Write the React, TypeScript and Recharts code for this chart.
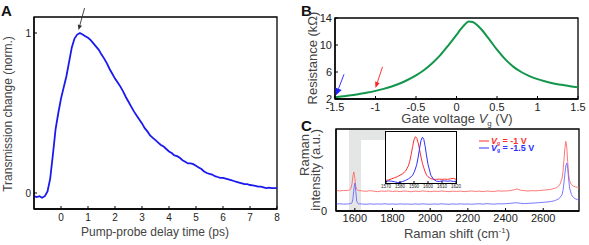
import { LineChart, Line, XAxis, YAxis, ReferenceArea, ReferenceDot } from "recharts"

const FONT = "'Liberation Sans', Arial, sans-serif"

// panel A: pump-probe transient
const delayTime = [
  -1.0, -0.9, -0.8, -0.7, -0.6, -0.5, -0.4, -0.3, -0.2, -0.1,
  0.0, 0.1, 0.2, 0.3, 0.4, 0.5, 0.6, 0.7, 0.8, 0.9,
  1.0, 1.1, 1.2, 1.3, 1.4, 1.5, 1.6, 1.7, 1.8, 1.9,
  2.0, 2.1, 2.2, 2.3, 2.4, 2.5, 2.6, 2.7, 2.8, 2.9,
  3.0, 3.1, 3.2, 3.3, 3.4, 3.5, 3.6, 3.7, 3.8, 3.9,
  4.0, 4.1, 4.2, 4.3, 4.4, 4.5, 4.6, 4.7, 4.8, 4.9,
  5.0, 5.1, 5.2, 5.3, 5.4, 5.5, 5.6, 5.7, 5.8, 5.9,
  6.0, 6.1, 6.2, 6.3, 6.4, 6.5, 6.6, 6.7, 6.8, 6.9,
  7.0, 7.1, 7.2, 7.3, 7.4, 7.5, 7.6, 7.7, 7.8, 7.9,
  8.0,
]
const transmission = [
  -0.02, -0.025, -0.02, -0.03, -0.02, 0.01, 0.09, 0.24, 0.4, 0.5,
  0.59, 0.66, 0.73, 0.82, 0.91, 0.965, 0.99, 1.0, 0.99, 0.98,
  0.97, 0.955, 0.935, 0.915, 0.895, 0.865, 0.84, 0.81, 0.775, 0.745,
  0.715, 0.69, 0.665, 0.635, 0.6, 0.57, 0.54, 0.51, 0.485, 0.46,
  0.435, 0.405, 0.385, 0.36, 0.345, 0.33, 0.315, 0.3, 0.29, 0.275,
  0.26, 0.25, 0.235, 0.23, 0.22, 0.205, 0.195, 0.185, 0.185, 0.18,
  0.17, 0.16, 0.15, 0.135, 0.125, 0.12, 0.115, 0.105, 0.1, 0.095,
  0.095, 0.09, 0.085, 0.08, 0.075, 0.07, 0.065, 0.06, 0.055, 0.055,
  0.05, 0.048, 0.045, 0.04, 0.04, 0.035, 0.03, 0.033, 0.03, 0.03,
  0.03,
]
const delayTicks = [0, 1, 2, 3, 4, 5, 6, 7, 8]

// panel B: resistance vs gate voltage
const gateVoltage = [
  -1.5, -1.4, -1.3, -1.2, -1.1, -1.0, -0.9, -0.8, -0.7, -0.6, -0.5, -0.4, -0.3, -0.2, -0.1,
  0.0, 0.05, 0.1, 0.15, 0.2, 0.25, 0.3, 0.4, 0.5, 0.6, 0.7, 0.8, 0.9, 1.0, 1.1, 1.2, 1.3, 1.4, 1.5,
]
const resistance = [
  2.25, 2.4, 2.55, 2.75, 2.95, 3.2, 3.5, 3.85, 4.3, 4.85, 5.5, 6.3, 7.3, 8.5, 9.95,
  11.5, 12.3, 13.0, 13.5, 13.4, 13.0, 12.4, 10.9, 9.3, 7.9, 6.8, 6.0, 5.4, 4.95, 4.6, 4.3, 4.1, 3.9, 3.75,
]
const gateTicks = [-1.5, -1, -0.5, 0, 0.5, 1, 1.5]
const resistanceTicks = [2, 6, 10, 14]

// panel C: Raman spectra
const ramanShift = [
  1500, 1520, 1540, 1560, 1570, 1575, 1580, 1585, 1590, 1595, 1600, 1605, 1610, 1615, 1620,
  1640, 1660, 1680, 1700, 1720, 1740, 1760, 1780, 1800, 1820,
  1840, 1860, 1880, 1900, 1920, 1940, 1960, 1980, 2000, 2020,
  2040, 2060, 2080, 2100, 2120, 2140, 2160, 2180, 2200, 2220,
  2240, 2260, 2280, 2300, 2320, 2340, 2360, 2380, 2400, 2420,
  2440, 2460, 2480, 2500, 2520, 2540, 2560, 2580, 2600, 2620,
  2640,
  2660, 2670, 2680, 2690, 2700, 2705, 2710, 2715, 2720, 2725, 2730, 2735, 2740, 2750, 2760, 2770, 2780, 2790,
]
const ramanRed = [
  0.25, 0.245, 0.25, 0.25, 0.255, 0.26, 0.28, 0.33, 0.43, 0.476, 0.4, 0.3, 0.265, 0.255, 0.25,
  0.245, 0.24, 0.248, 0.242, 0.236, 0.244, 0.24, 0.246, 0.238, 0.242,
  0.236, 0.244, 0.24, 0.235, 0.243, 0.238, 0.245, 0.24, 0.236, 0.242,
  0.238, 0.244, 0.24, 0.236, 0.242, 0.238, 0.243, 0.236, 0.24, 0.245,
  0.238, 0.242, 0.236, 0.244, 0.24, 0.238, 0.246, 0.242, 0.244, 0.248,
  0.256, 0.268, 0.254, 0.248, 0.244, 0.248, 0.246, 0.25, 0.254, 0.258,
  0.264,
  0.275, 0.285, 0.3, 0.33, 0.4, 0.48, 0.62, 0.76, 0.85, 0.78, 0.6, 0.45, 0.37, 0.32, 0.305, 0.295, 0.29, 0.28,
]
const ramanBlue = [
  0.085, 0.088, 0.084, 0.086, 0.088, 0.09, 0.092, 0.1, 0.15, 0.27, 0.34, 0.24, 0.12, 0.095, 0.088,
  0.085, 0.082, 0.087, 0.083, 0.086, 0.084, 0.088, 0.083, 0.086, 0.082,
  0.087, 0.084, 0.085, 0.082, 0.086, 0.083, 0.087, 0.084, 0.082, 0.086,
  0.083, 0.088, 0.084, 0.082, 0.086, 0.083, 0.087, 0.084, 0.085, 0.082,
  0.086, 0.088, 0.084, 0.09, 0.086, 0.084, 0.088, 0.087, 0.09, 0.092,
  0.098, 0.1, 0.094, 0.09, 0.093, 0.096, 0.099, 0.102, 0.106, 0.11,
  0.116,
  0.125, 0.135, 0.145, 0.165, 0.2, 0.25, 0.34, 0.45, 0.55, 0.585, 0.52, 0.39, 0.28, 0.2, 0.165, 0.15, 0.14, 0.13,
]
const ramanTicks = [1600, 1800, 2000, 2200, 2400, 2600]

// panel C inset: G peak close-up
const insetShift = [
  1570, 1572, 1574, 1576, 1578, 1580, 1582, 1584, 1586, 1587, 1588, 1589, 1590, 1591, 1592, 1593, 1594,
  1595, 1596, 1597, 1598, 1599, 1600, 1602, 1604, 1606, 1608, 1610, 1612, 1614, 1616, 1618, 1620,
]
const insetRed = [
  0.05, 0.06, 0.08, 0.1, 0.12, 0.15, 0.18, 0.23, 0.33, 0.42, 0.55, 0.7, 0.83, 0.89, 0.86, 0.77, 0.64,
  0.5, 0.38, 0.29, 0.21, 0.15, 0.12, 0.085, 0.07, 0.07, 0.075, 0.07, 0.075, 0.07, 0.08, 0.09, 0.07,
]
const insetBlue = [
  0.03, 0.04, 0.035, 0.025, 0.01, 0.01, 0.03, 0.05, 0.08, 0.1, 0.12, 0.15, 0.2, 0.27, 0.36, 0.5, 0.67,
  0.82, 0.88, 0.84, 0.7, 0.52, 0.36, 0.15, 0.07, 0.035, 0.03, 0.04, 0.04, 0.035, 0.04, 0.03, 0.035,
]
const insetTicks = [1570, 1580, 1590, 1600, 1610, 1620]

const transData = delayTime.map((t, i) => ({ t, v: transmission[i] }))
const gateData = gateVoltage.map((v, i) => ({ v, r: resistance[i] }))
const ramanData = ramanShift.map((s, i) => ({ s, red: ramanRed[i], blue: ramanBlue[i] }))
const insetData = insetShift.map((s, i) => ({ s, red: insetRed[i], blue: insetBlue[i] }))

const tickStyle = (size: number) => ({ fontSize: size, fill: "#222", fontFamily: FONT })

function makeArrow(tipDx: number, tipDy: number, dx: number, dy: number, color: string, head = 6, half = 2.4) {
  return (props: any) => {
    const tipX = props.cx + tipDx
    const tipY = props.cy + tipDy
    const x0 = tipX + dx
    const y0 = tipY + dy
    const len = Math.hypot(dx, dy)
    const ux = -dx / len
    const uy = -dy / len
    const bx = tipX - ux * head
    const by = tipY - uy * head
    const px = -uy * half
    const py = ux * half
    return (
      <g>
        <line x1={x0} y1={y0} x2={bx} y2={by} stroke={color} strokeWidth={0.9} />
        <polygon points={`${tipX},${tipY} ${bx + px},${by + py} ${bx - px},${by - py}`} fill={color} />
      </g>
    )
  }
}

function PanelA() {
  return (
    <div style={{ position: "absolute", left: 0, top: 0 }}>
      <LineChart width={300} height={245} data={transData} margin={{ top: 17, right: 23, bottom: 0, left: 0 }}>
        <XAxis
          dataKey="t"
          type="number"
          domain={[-1, 8]}
          ticks={delayTicks}
          interval={0}
          height={36}
          axisLine={{ stroke: "#000", strokeWidth: 1.3 }}
          tickLine={{ stroke: "#000" }}
          tickSize={-3}
          tickMargin={8}
          tick={tickStyle(10)}
        />
        <YAxis
          type="number"
          domain={[-0.1, 1.1]}
          ticks={[0, 1]}
          interval={0}
          width={34}
          axisLine={{ stroke: "#000", strokeWidth: 1.3 }}
          tickLine={{ stroke: "#000" }}
          tickSize={-3}
          tickMargin={6}
          tick={tickStyle(10)}
        />
        <ReferenceArea x1={-1} x2={8} y1={-0.1} y2={1.1} fill="none" stroke="#000" strokeWidth={1.3} />
        <Line type="linear" dataKey="v" stroke="#1a1aee" strokeWidth={1.8} dot={false} isAnimationActive={false} />
        <ReferenceDot x={0.65} y={1.0} ifOverflow="visible" shape={makeArrow(0, -3, 6, -22, "#333", 5, 2.2)} />
      </LineChart>
    </div>
  )
}

function PanelB() {
  return (
    <div style={{ position: "absolute", left: 300, top: 0 }}>
      <LineChart width={289} height={130} data={gateData} margin={{ top: 18, right: 11, bottom: 0, left: 0 }}>
        <XAxis
          dataKey="v"
          type="number"
          domain={[-1.5, 1.5]}
          ticks={gateTicks}
          interval={0}
          height={31}
          axisLine={{ stroke: "#000", strokeWidth: 1.3 }}
          tickLine={{ stroke: "#000" }}
          tickSize={-3}
          tickMargin={7}
          tick={tickStyle(11)}
        />
        <YAxis
          type="number"
          domain={[2, 14]}
          ticks={resistanceTicks}
          interval={0}
          width={35}
          axisLine={{ stroke: "#000", strokeWidth: 1.3 }}
          tickLine={{ stroke: "#000" }}
          tickSize={-3}
          tickMargin={6}
          tick={tickStyle(11)}
        />
        <ReferenceArea x1={-1.5} x2={1.5} y1={2} y2={14} fill="none" stroke="#000" strokeWidth={1.3} />
        <Line type="monotone" dataKey="r" stroke="#12964a" strokeWidth={2} dot={false} isAnimationActive={false} />
        <ReferenceDot x={-1} y={3.2} ifOverflow="visible" shape={makeArrow(0, -3, 7, -21, "#ff2020", 6, 2.4)} />
        <ReferenceDot x={-1.5} y={2.25} ifOverflow="visible" shape={makeArrow(1, -2, 8, -21, "#2020ff", 7, 3.4)} />
      </LineChart>
    </div>
  )
}

function PanelC() {
  return (
    <div style={{ position: "absolute", left: 300, top: 120 }}>
      <LineChart width={289} height={125} data={ramanData} margin={{ top: 9, right: 10, bottom: 0, left: 0 }}>
        <XAxis
          dataKey="s"
          type="number"
          domain={[1500, 2790]}
          ticks={ramanTicks}
          interval={0}
          height={34}
          axisLine={{ stroke: "#000", strokeWidth: 1.3 }}
          tickLine={{ stroke: "#000" }}
          tickSize={-3}
          tickMargin={6}
          tick={tickStyle(11)}
        />
        <YAxis
          type="number"
          domain={[0, 1]}
          ticks={[0]}
          interval={0}
          width={36}
          axisLine={{ stroke: "#000", strokeWidth: 1.3 }}
          tickLine={false}
          tickMargin={3}
          tick={tickStyle(11)}
        />
        <ReferenceArea x1={1569} x2={1633} y1={0} y2={1} fill="#c9cbcb" stroke="none" />
        <ReferenceArea x1={1633} x2={1765} y1={0.866} y2={1} fill="#c9cbcb" stroke="none" />
        <Line type="linear" dataKey="red" stroke="#ff6a6a" strokeWidth={0.9} dot={false} isAnimationActive={false} />
        <Line type="linear" dataKey="blue" stroke="#6a6aff" strokeWidth={0.9} dot={false} isAnimationActive={false} />
        <ReferenceArea x1={1500} x2={2790} y1={0} y2={1} fill="none" stroke="#000" strokeWidth={1.3} />
      </LineChart>
    </div>
  )
}

function Inset() {
  return (
    <>
      <div
        style={{
          position: "absolute",
          left: 385,
          top: 131,
          width: 72,
          height: 53,
          boxSizing: "border-box",
          border: "1px solid #000",
          background: "#fff",
        }}
      />
      <div style={{ position: "absolute", left: 380, top: 128 }}>
        <LineChart width={82} height={70} data={insetData} margin={{ top: 3, right: 6, bottom: 0, left: 6 }}>
          <XAxis
            dataKey="s"
            type="number"
            domain={[1570, 1620]}
            ticks={insetTicks}
            interval={0}
            height={15}
            axisLine={false}
            tickLine={{ stroke: "#000" }}
            tickSize={-2}
            tickMargin={4}
            tick={tickStyle(4.6)}
          />
          <YAxis hide type="number" domain={[0, 1]} />
          <Line type="linear" dataKey="red" stroke="#ff3030" strokeWidth={1} dot={false} isAnimationActive={false} />
          <Line type="linear" dataKey="blue" stroke="#3030ff" strokeWidth={1} dot={false} isAnimationActive={false} />
        </LineChart>
      </div>
    </>
  )
}

function Labels() {
  const title = { fontFamily: FONT, fill: "#444" }
  return (
    <svg width={589} height={245} style={{ position: "absolute", left: 0, top: 0, pointerEvents: "none" }}>
      <text x={1} y={16} fontFamily={FONT} fontSize={15} fontWeight="bold" fill="#111">A</text>
      <text x={301} y={16} fontFamily={FONT} fontSize={15} fontWeight="bold" fill="#111">B</text>
      <text x={301} y={131} fontFamily={FONT} fontSize={15} fontWeight="bold" fill="#111">C</text>

      <text transform="translate(12,114) rotate(-90)" textAnchor="middle" fontSize={12} {...title}>
        Transmission change (norm.)
      </text>
      <text x={155} y={236} textAnchor="middle" fontSize={12} {...title}>
        Pump-probe delay time (ps)
      </text>

      <text transform="translate(317,58) rotate(-90)" textAnchor="middle" fontSize={13} {...title}>
        Resistance (kΩ)
      </text>
      <text x={457} y={123} textAnchor="middle" fontSize={13} {...title}>
        Gate voltage <tspan fontStyle="italic">V</tspan>
        <tspan fontSize={8} dy={3}>g</tspan>
        <tspan dy={-3}> (V)</tspan>
      </text>

      <text transform="translate(309,134) rotate(-90)" textAnchor="end" fontSize={13} {...title}>
        Raman
      </text>
      <text transform="translate(320,129) rotate(-90)" textAnchor="end" fontSize={13} {...title}>
        intensity (a.u.)
      </text>
      <text x={457} y={238} textAnchor="middle" fontSize={13} {...title}>
        Raman shift (cm<tspan fontSize={8} dy={-5}>-1</tspan>
        <tspan dy={5}>)</tspan>
      </text>

      <line x1={479} y1={141} x2={489} y2={141} stroke="#ff3030" strokeWidth={1} />
      <text x={491} y={143.5} fontFamily={FONT} fontSize={9} fontWeight="bold" fill="#ff3030">
        <tspan fontStyle="italic">V</tspan>
        <tspan fontSize={5} dy={1.5}>g</tspan>
        <tspan dy={-1.5}> = -1 V</tspan>
      </text>
      <line x1={479} y1={148} x2={489} y2={148} stroke="#3030ff" strokeWidth={1} />
      <text x={491} y={150.5} fontFamily={FONT} fontSize={9} fontWeight="bold" fill="#3030ff">
        <tspan fontStyle="italic">V</tspan>
        <tspan fontSize={5} dy={1.5}>g</tspan>
        <tspan dy={-1.5}> = -1.5 V</tspan>
      </text>
    </svg>
  )
}

export default function App() {
  return (
    <div style={{ position: "absolute", left: 0, top: 0, width: 589, height: 245, background: "#fff", overflow: "hidden" }}>
      <PanelA />
      <PanelB />
      <PanelC />
      <Inset />
      <Labels />
    </div>
  )
}
